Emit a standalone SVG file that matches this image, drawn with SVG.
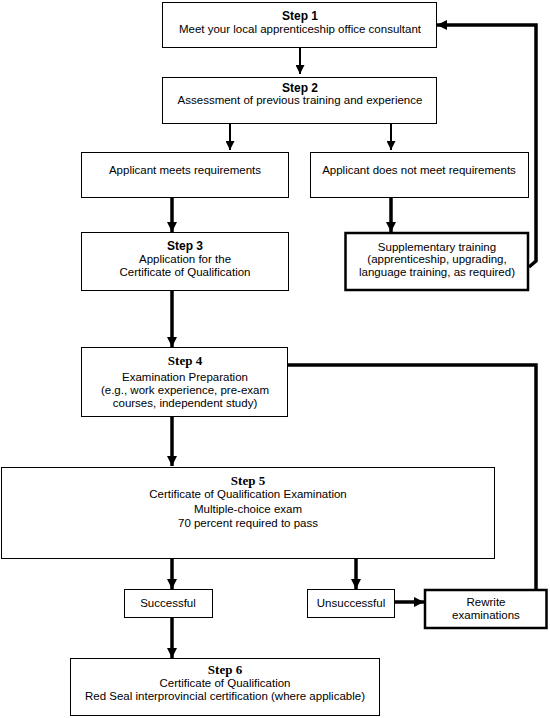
<svg xmlns="http://www.w3.org/2000/svg" width="550" height="718" viewBox="0 0 550 718">
<style>
.box{fill:#fff;stroke:#000;stroke-width:1}
.tbox{fill:#fff;stroke:#000;stroke-width:2.5}
text{font-family:"Liberation Sans",Arial,sans-serif;font-size:11.5px;fill:#000;text-anchor:middle}
.b{font-weight:bold;font-size:12px}
.bs{font-family:"Liberation Serif","Times New Roman",serif;font-weight:bold;font-size:13px}
.thin{stroke:#000;stroke-width:2;fill:none}
.thick{stroke:#000;stroke-width:3.5;fill:none}
</style>
<defs>
<marker id="ah" viewBox="0 0 10 10" refX="10" refY="5" markerUnits="userSpaceOnUse" markerWidth="9" markerHeight="9" orient="auto"><path d="M0,0 L10,5 L0,10 z" fill="#000"/></marker>
<marker id="ahb" viewBox="0 0 10 10" refX="10" refY="5" markerUnits="userSpaceOnUse" markerWidth="10" markerHeight="10" orient="auto"><path d="M0,0 L10,5 L0,10 z" fill="#000"/></marker>
</defs>
<rect width="550" height="718" fill="#fff"/>
<g id="connectors">
<line class="thin" x1="300" y1="47" x2="300" y2="74" marker-end="url(#ah)"/>
<line class="thin" x1="230" y1="123" x2="230" y2="150" marker-end="url(#ah)"/>
<line class="thin" x1="391" y1="123" x2="391" y2="150" marker-end="url(#ah)"/>
<line class="thick" x1="172" y1="197" x2="172" y2="232" marker-end="url(#ahb)"/>
<line class="thick" x1="391" y1="197" x2="391" y2="232" marker-end="url(#ahb)"/>
<polyline class="thick" points="529,267 536,261 536,25 437,25" marker-end="url(#ahb)"/>
<line class="thick" x1="172" y1="290" x2="172" y2="347" marker-end="url(#ahb)"/>
<polyline class="thick" points="288,365 536,365 536,589"/>
<line class="thick" x1="172" y1="417" x2="172" y2="466" marker-end="url(#ahb)"/>
<line class="thick" x1="172" y1="559" x2="172" y2="589" marker-end="url(#ahb)"/>
<line class="thick" x1="356" y1="559" x2="356" y2="589" marker-end="url(#ahb)"/>
<line class="thick" x1="394" y1="602" x2="424" y2="602" marker-end="url(#ahb)"/>
<line class="thick" x1="172" y1="617" x2="172" y2="658" marker-end="url(#ahb)"/>
</g>
<g id="step1">
<rect class="box" x="162.5" y="2.5" width="274" height="45"/>
<text class="b" x="300" y="20">Step 1</text>
<text x="300" y="33">Meet your local apprenticeship office consultant</text>
</g>
<g id="step2">
<rect class="box" x="162.5" y="77.5" width="274" height="46"/>
<text class="b" x="300" y="92">Step 2</text>
<text x="300" y="104">Assessment of previous training and experience</text>
</g>
<g id="meets">
<rect class="box" x="81.5" y="152.5" width="207" height="45"/>
<text x="185" y="174">Applicant meets requirements</text>
</g>
<g id="notmeets">
<rect class="box" x="310.5" y="152.5" width="218" height="45"/>
<text x="419" y="174">Applicant does not meet requirements</text>
</g>
<g id="step3">
<rect class="box" x="81.5" y="232.5" width="207" height="58"/>
<text class="b" x="185" y="250">Step 3</text>
<text x="185" y="263">Application for the</text>
<text x="185" y="276">Certificate of Qualification</text>
</g>
<g id="supplementary">
<rect class="tbox" x="345.5" y="233" width="182.5" height="57"/>
<text x="437" y="251">Supplementary training</text>
<text x="437" y="263">(apprenticeship, upgrading,</text>
<text x="437" y="276">language training, as required)</text>
</g>
<g id="step4">
<rect class="box" x="81.5" y="347.5" width="206" height="69"/>
<text class="bs" x="185" y="365">Step 4</text>
<text x="185" y="381">Examination Preparation</text>
<text x="185" y="394">(e.g., work experience, pre-exam</text>
<text x="185" y="407">courses, independent study)</text>
</g>
<g id="step5">
<rect class="box" x="1.5" y="467.5" width="493" height="91"/>
<text class="bs" x="248" y="485">Step 5</text>
<text x="248" y="498">Certificate of Qualification Examination</text>
<text x="248" y="513">Multiple-choice exam</text>
<text x="248" y="527">70 percent required to pass</text>
</g>
<g id="successful">
<rect class="box" x="124.5" y="589.5" width="88" height="28"/>
<text x="168" y="607">Successful</text>
</g>
<g id="unsuccessful">
<rect class="box" x="307.5" y="589.5" width="87" height="28"/>
<text x="351" y="607">Unsuccessful</text>
</g>
<g id="rewrite">
<rect class="tbox" x="425" y="590" width="121.5" height="38"/>
<text x="486" y="606">Rewrite</text>
<text x="486" y="619">examinations</text>
</g>
<g id="step6">
<rect class="box" x="70.5" y="658.5" width="309" height="57"/>
<text class="bs" x="225" y="674">Step 6</text>
<text x="225" y="687">Certificate of Qualification</text>
<text x="225" y="700">Red Seal interprovincial certification (where applicable)</text>
</g>
</svg>
